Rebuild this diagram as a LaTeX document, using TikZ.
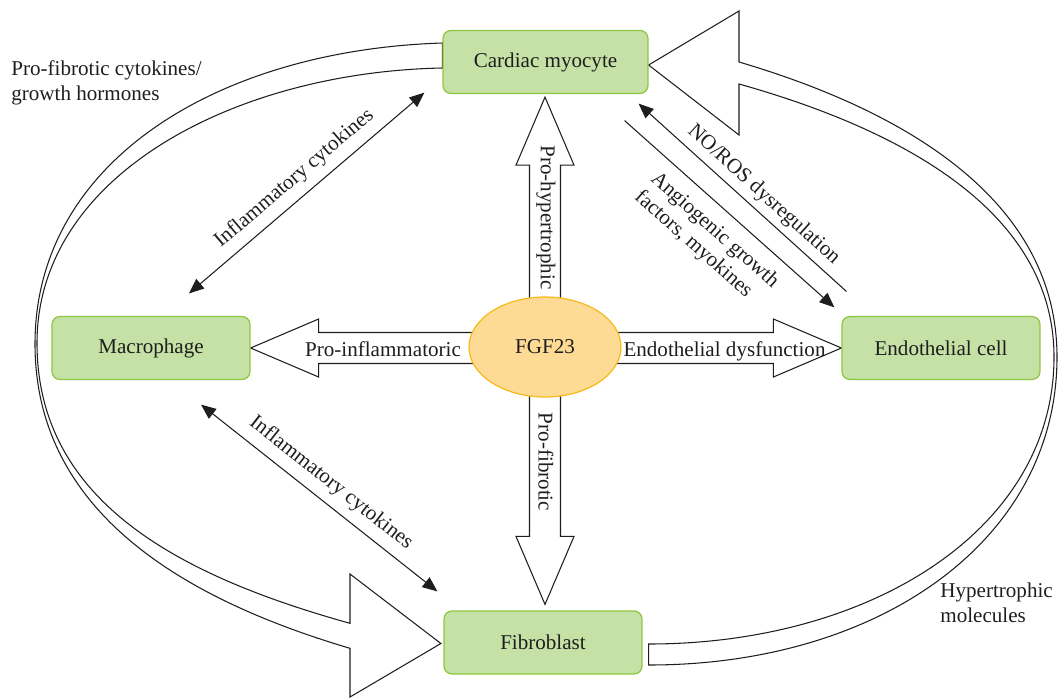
\documentclass[tikz,border=0pt]{standalone}
\usepackage{fontspec}
\setmainfont{Liberation Serif}
\usetikzlibrary{shapes.geometric, arrows.meta, calc, backgrounds}
\definecolor{cellfill}{HTML}{C5E1A5}
\definecolor{celldraw}{HTML}{8DC63F}
\definecolor{hubfill}{HTML}{FDDB95}
\definecolor{hubdraw}{HTML}{F7BA1E}
\definecolor{ink}{HTML}{1E1E1E}

\begin{document}
\begin{tikzpicture}[x=0.02cm, y=-0.02cm, every node/.style={font=\fontsize{12pt}{14pt}\selectfont, text=ink}]
\useasboundingbox (0,0) rectangle (1061,697);
% Define styles
\tikzstyle{cell} = [rectangle, rounded corners=4.5pt, minimum width=3.96cm, minimum height=1.26cm, align=center, draw=celldraw, fill=cellfill, line width=0.7pt]
\tikzstyle{hub} = [ellipse, minimum width=3.04cm, minimum height=2cm, inner sep=0pt, draw=hubdraw, fill=hubfill, line width=0.7pt]
\tikzstyle{fat} = [draw=ink, fill=white, line width=0.6pt, line join=miter]
\tikzstyle{arrow} = [ink, line width=0.6pt, -{Triangle[length=8.5pt, width=7pt]}]
\tikzstyle{twoway} = [arrow, {Triangle[length=8.5pt, width=7pt]}-{Triangle[length=8.5pt, width=7pt]}]
\tikzstyle{note} = [align=left, inner sep=0pt]
% Place nodes
\node (cm) [cell, minimum width=4.1cm] at (545.5,62) {Cardiac myocyte};
\node (mac) [cell] at (151,348) {Macrophage};
\node (endo) [cell] at (941,348) {Endothelial cell};
\node (fib) [cell] at (543,642.5) {Fibroblast};
\node (fgf) [hub] at (545,347) {FGF23};
\node (pfc) [note, anchor=west] at (11,83) {Pro-fibrotic cytokines/\\growth hormones};
\node (hm) [note, anchor=west] at (940,603) {Hypertrophic\\molecules};
\node (lph) [rotate=-90] at (546,217.5) {Pro-hypertrophic};
\node (lpf) [rotate=-90] at (546,462) {Pro-fibrotic};
\node (lpi) [anchor=base] at (383,356.5) {Pro-inflammatoric};
\node (led) [anchor=base] at (724.5,356.5) {Endothelial dysfunction};
% Draw big arrows behind the nodes
\begin{scope}[on background layer]
\draw [fat] ($(cm.west)+(0,-19)$) .. controls (220,50) and (35,160) .. (35,344) .. controls (35,510) and (180,598) .. (350,648.3) -- (350,697) -- ($(fib.west)+(-2.5,1)$) -- (350,574) -- (350,623.3) .. controls (176.5,575) and (37,500) .. (37,343) .. controls (37,175) and (235,72) .. ($(cm.west)+(0,6)$) -- cycle;
\draw [fat] ($(fib.east)+(6,22.5)$) .. controls (880,665) and (1057,540) .. (1057,357) .. controls (1057,200) and (905,111) .. (739,62) -- (739,11) -- ($(cm.east)+(0,3)$) -- (739,135) -- (739,84) .. controls (899,129) and (1054,210) .. (1054,357) .. controls (1054,530) and (870,644) .. ($(fib.east)+(6,1.5)$) -- cycle;
\coordinate (up) at ($(fgf |- cm.south)+(0,3)$);
\coordinate (dn) at ($(fgf |- fib.north)+(0,-6)$);
\draw [fat] ($(fgf.center)+(-15.5,0)$) -- ($(up)+(-15.5,68)$) -- ($(up)+(-29,68)$) -- (up) -- ($(up)+(29,68)$) -- ($(up)+(15.5,68)$) -- ($(fgf.center)+(15.5,0)$) -- cycle;
\draw [fat] ($(fgf.center)+(-15.5,0)$) -- ($(dn)+(-15.5,-68)$) -- ($(dn)+(-29,-68)$) -- (dn) -- ($(dn)+(29,-68)$) -- ($(dn)+(15.5,-68)$) -- ($(fgf.center)+(15.5,0)$) -- cycle;
\draw [fat] (mac.east) -- ++(68,-29) -- ++(0,13.5) -- ($(endo.west)+(-68,-15.5)$) -- ++(0,-13.5) -- (endo.west) -- ++(-68,29) -- ++(0,-13.5) -- ($(mac.east)+(68,15.5)$) -- ++(0,13.5) -- cycle;
\end{scope}
% Draw thin arrows
\draw [twoway] ($(mac.north)+(38,-22.5)$) -- node[sloped, above, inner ysep=5pt] {Inflammatory cytokines} ($(cm.south west)+(-18,-1.5)$);
\draw [twoway] ($(mac.south)+(50,24.5)$) -- node[sloped, above, inner ysep=5pt] {Inflammatory cytokines} ($(fib.north west)+(-6,-19)$);
\draw [arrow] ($(endo.north west)+(5,-24.5)$) -- node[sloped, above, pos=0.45] {NO/ROS dysregulation} ($(cm.south east)+(-10,9.5)$);
\draw [arrow] ($(cm.south east)+(-24,26.5)$) -- node[sloped, below, align=left, inner ysep=7pt] {Angiogenic growth\\factors, myokines} ($(endo.north west)+(-7,-8.5)$);
\end{tikzpicture}
\end{document}
